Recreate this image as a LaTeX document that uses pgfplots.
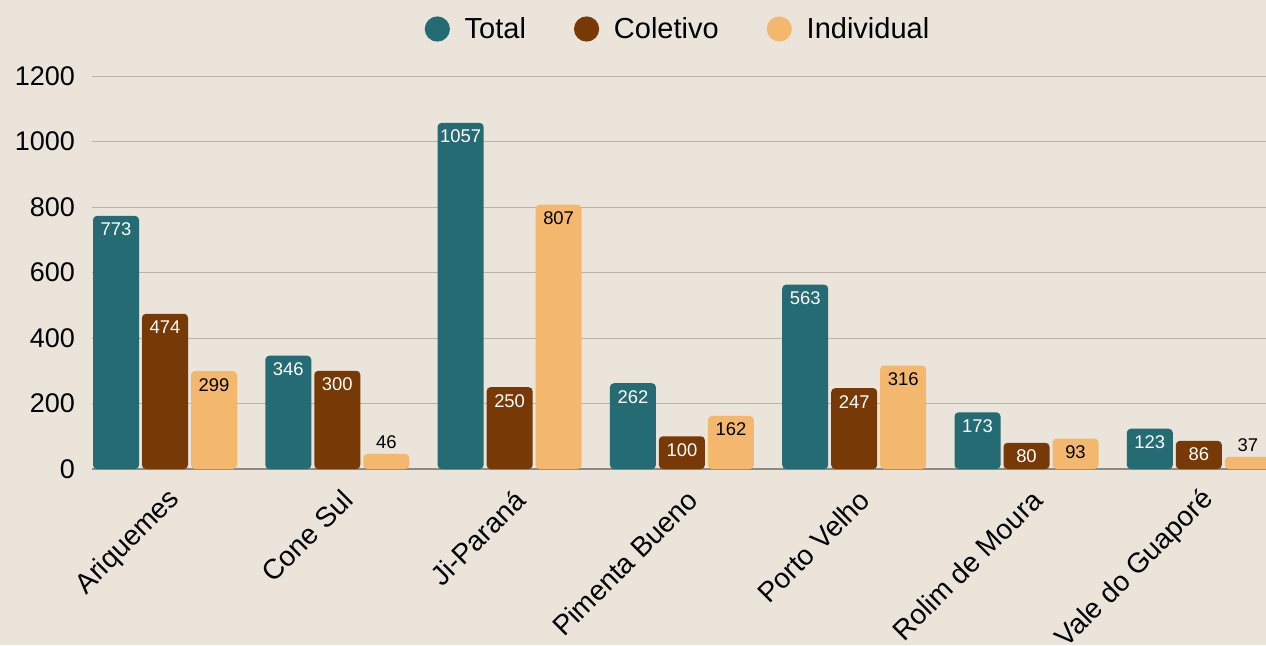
\documentclass[border=0pt]{standalone}
\usepackage{fontspec}
\setmainfont{Liberation Sans}
\usepackage{pgfplots}
\usepackage{pgfplotstable}
\pgfplotsset{compat=1.18}
\definecolor{bgc}{HTML}{EAE4DA}
\definecolor{tealc}{HTML}{246B74}
\definecolor{brownc}{HTML}{773905}
\definecolor{orangec}{HTML}{F3B86D}
\definecolor{gridc}{HTML}{B8B2A9}
\definecolor{axc}{HTML}{8E8983}

\pgfplotstableread{
x y
0 773
1 346
2 1057
3 262
4 563
5 173
6 123
}\tot
\pgfplotstableread{
x y
0 474
1 300
2 250
3 100
4 247
5 80
6 86
}\col
\pgfplotstableread{
x y
0 299
1 46
2 807
3 162
4 316
5 93
6 37
}\ind

\begin{document}
\begin{tikzpicture}
\fill[bgc] (-46pt,-88pt) rectangle (587pt,234.5pt);
\useasboundingbox (-46pt,-88pt) rectangle (587pt,234.5pt);
\begin{axis}[
  at={(0pt,0pt)}, anchor=south west,
  scale only axis, width=587pt, height=196.5pt,
  xmin=-0.4237, xmax=6.39, ymin=0, ymax=1200,
  enlargelimits=false,
  ybar, bar width=23pt,
  axis x line*=bottom, axis y line*=left,
  x axis line style={draw=axc, line width=0.6pt},
  y axis line style={draw=none},
  xtick={0,...,6},
  xticklabels={Ariquemes,Cone Sul,Ji-Paraná,Pimenta Bueno,Porto Velho,Rolim de Moura,Vale do Guaporé},
  ytick={0,200,...,1200},
  xtick style={draw=none}, ytick style={draw=none},
  ymajorgrids, major grid style={draw=gridc, line width=0.5pt},
  /pgf/number format/assume math mode=true,
  /pgf/number format/1000 sep={},
  yticklabel style={font=\fontsize{13.5}{16}\selectfont, xshift=-5pt},
  xticklabel style={font=\fontsize{14}{16}\selectfont, rotate=45, anchor=east, xshift=1pt, yshift=-10pt},
  legend style={at={(0.5,1)}, anchor=center, yshift=23.5pt, draw=none, fill=none,
    font=\fontsize{14.5}{17}\selectfont, legend columns=3,
    /tikz/every even column/.append style={column sep=22pt}},
  nodes near coords,
  every node near coord/.append style={anchor=north, font=\fontsize{9.2}{11}\selectfont},
]
\addlegendimage{legend image code/.code={\path[draw=none,fill=none] (0pt,0pt) rectangle (18pt,0.1pt); \fill[tealc,draw=none] (6.3pt,0pt) circle (6.3pt);}}
\addlegendentry{Total}
\addlegendimage{legend image code/.code={\path[draw=none,fill=none] (0pt,0pt) rectangle (18pt,0.1pt); \fill[brownc,draw=none] (6.3pt,0pt) circle (6.3pt);}}
\addlegendentry{Coletivo}
\addlegendimage{legend image code/.code={\path[draw=none,fill=none] (0pt,0pt) rectangle (18pt,0.1pt); \fill[orangec,draw=none] (6.3pt,0pt) circle (6.3pt);}}
\addlegendentry{Individual}
\addplot[fill=tealc, draw=none, rounded corners=2pt, bar shift=-24.5pt, forget plot,
  nodes near coords style={text=white}] table[x=x,y=y] {\tot};
\addplot[fill=brownc, draw=none, rounded corners=2pt, bar shift=0pt, forget plot,
  nodes near coords style={text=white}] table[x=x,y=y] {\col};
\addplot[fill=orangec, draw=none, rounded corners=2pt, bar shift=24.5pt, forget plot,
  visualization depends on={y \as \yv},
  nodes near coords style={text=black, yshift={ifthenelse(\yv<60,12.5,0)}}] table[x=x,y=y] {\ind};
\end{axis}
\end{tikzpicture}
\end{document}
